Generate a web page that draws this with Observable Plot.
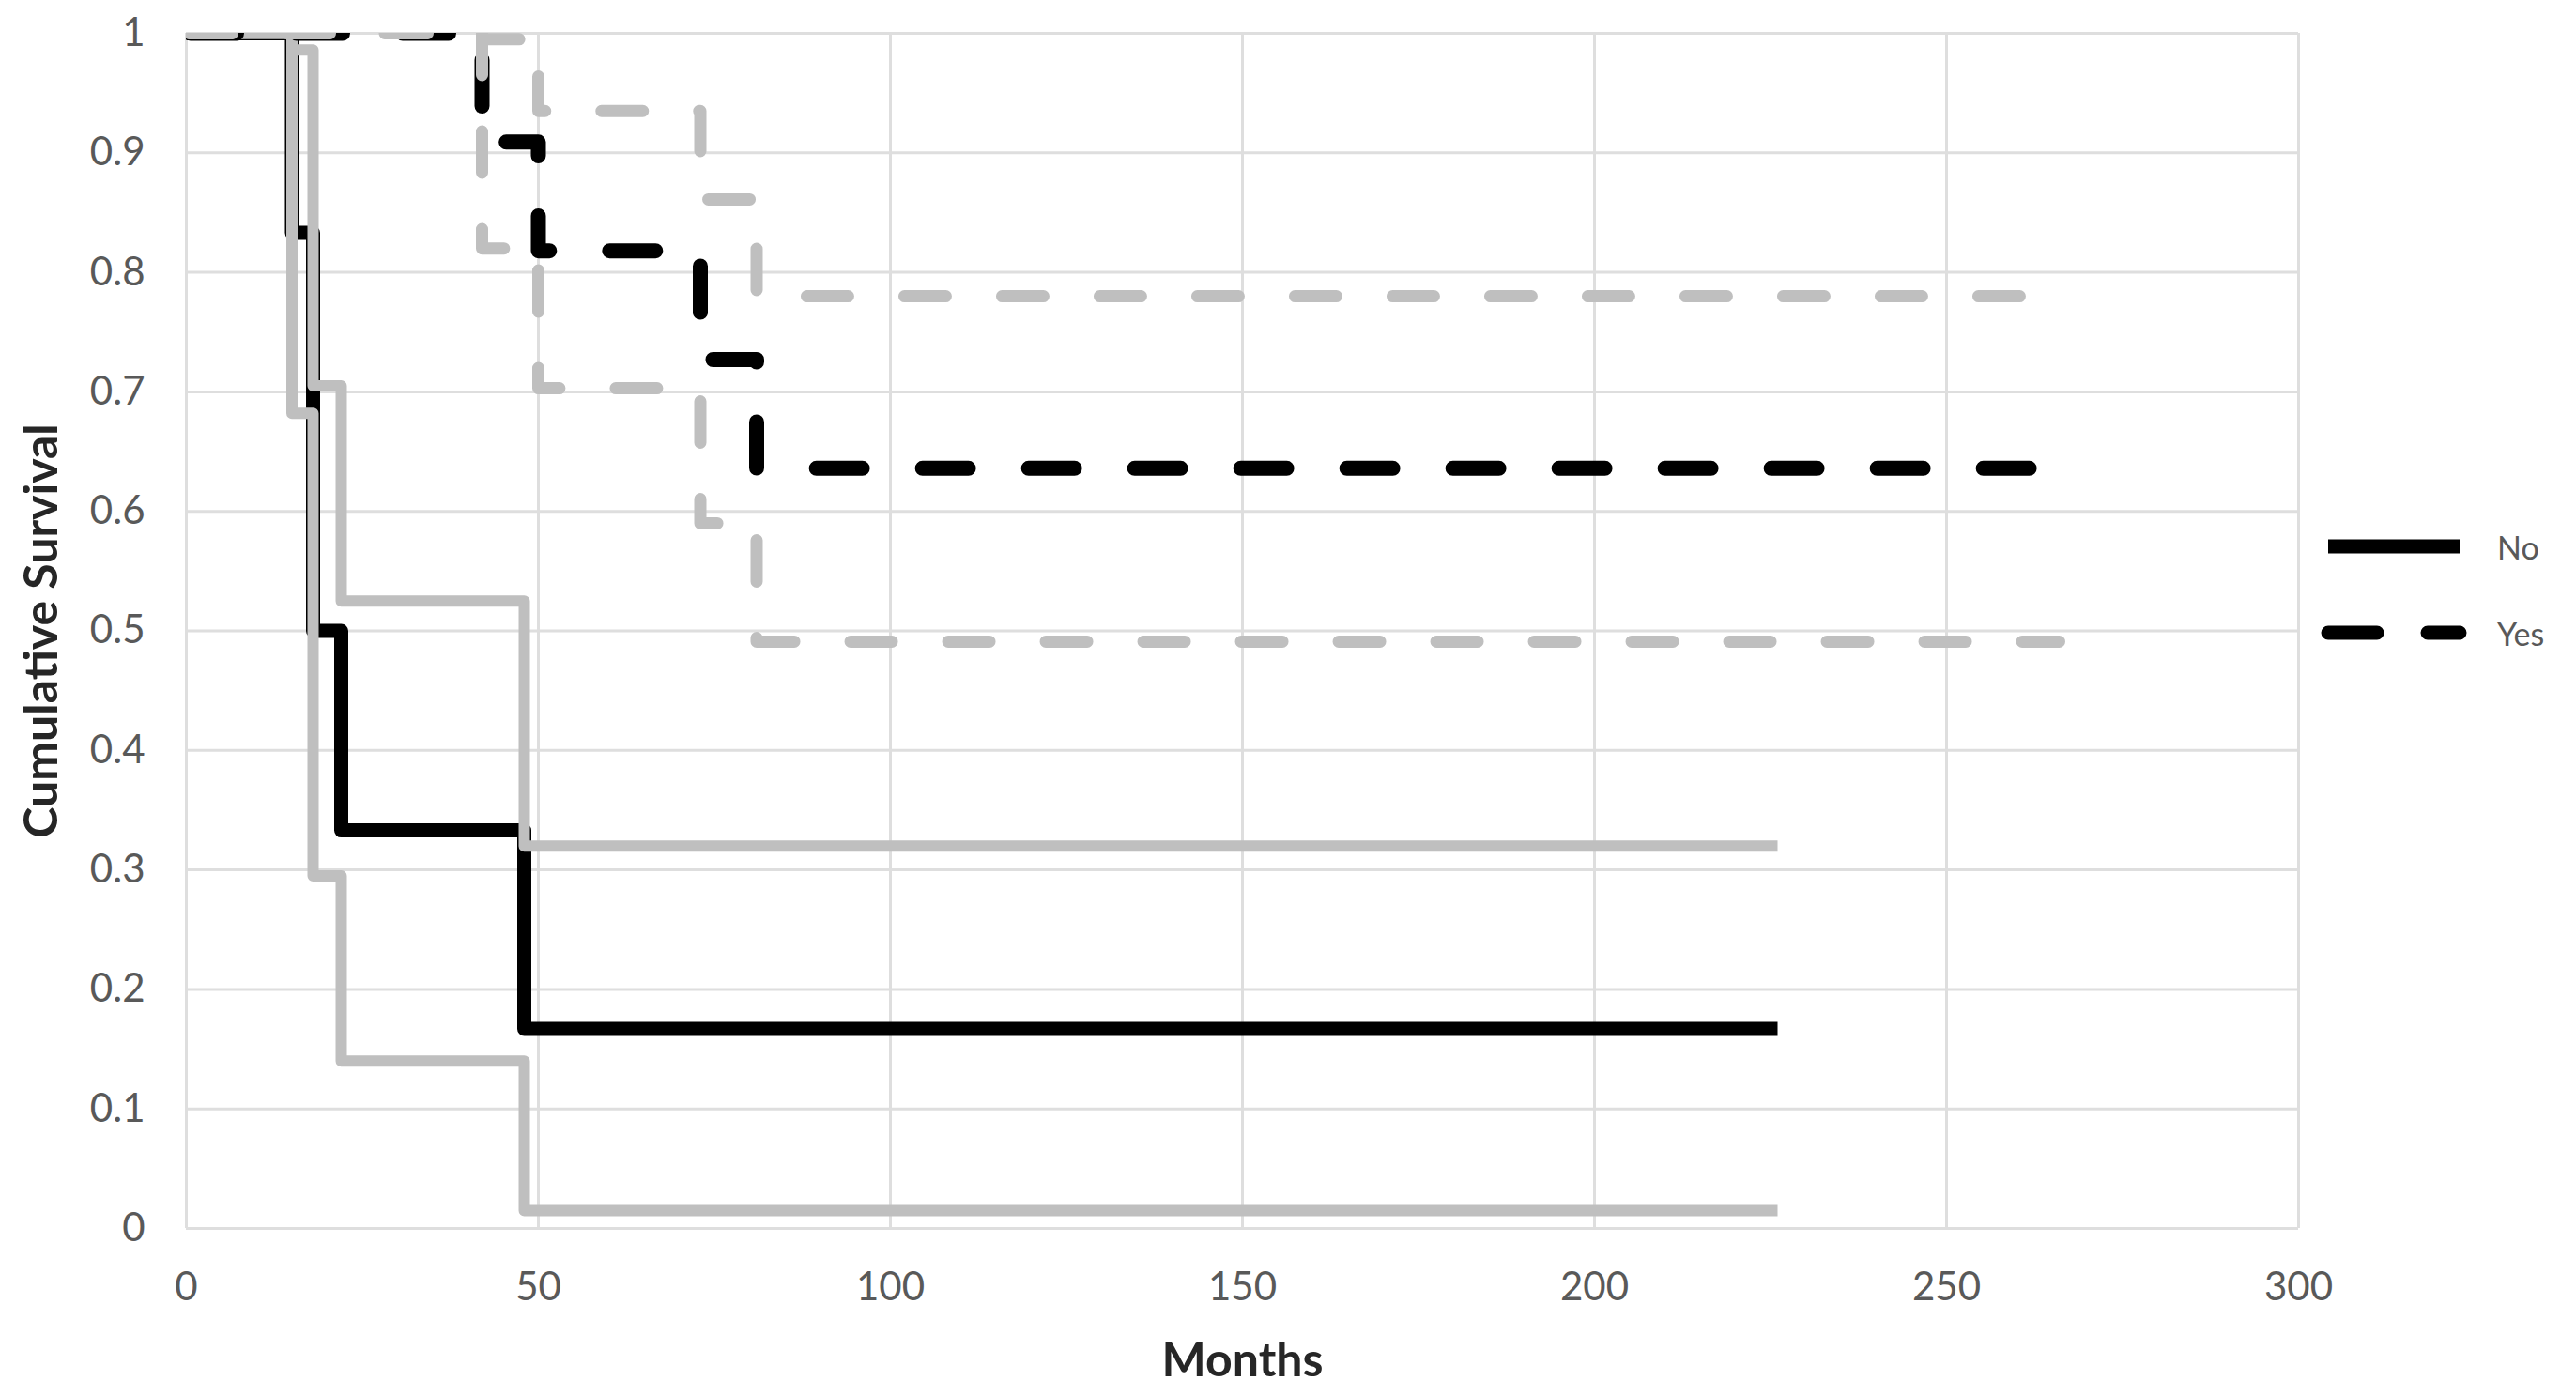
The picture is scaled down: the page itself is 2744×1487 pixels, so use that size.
<!DOCTYPE html>
<html>
<head>
<meta charset="utf-8">
<script src="https://cdn.jsdelivr.net/npm/d3@7"></script>
<script src="https://cdn.jsdelivr.net/npm/@observablehq/plot@0.6"></script>
<style>
  html, body { margin: 0; padding: 0; background: #fff; }
  #wrap { position: relative; width: 2744px; height: 1487px; overflow: hidden; font-family: Lato, "Open Sans", sans-serif; }
  #legend { position: absolute; left: 2470px; top: 536px; }
  .lg-row { display: flex; align-items: center; height: 92px; }
  .lg-row span { font-size: 34px; color: #595959; margin-left: 30px; }
</style>
</head>
<body>
<div id="wrap">
  <div id="chart"></div>
  <div id="legend"></div>
</div>
<script>
// ---- Data ----
const noTime      = [0, 15, 18, 22, 48, 226];
const noSurvival  = [1, 0.833, 0.5, 0.333, 0.167, 0.167];
const noLower     = [1, 0.682, 0.295, 0.14, 0.015, 0.015];
const noUpper     = [1, 0.986, 0.705, 0.525, 0.32, 0.32];

const yesTime      = [0, 42, 50, 73, 81, 263];
const yesSurvival  = [1, 0.909, 0.818, 0.727, 0.636, 0.636];
const yesUpper     = [1, 0.995, 0.935, 0.861, 0.78, 0.78];
const yesLowerTime = [0, 42, 50, 73, 81, 266];
const yesLower     = [1, 0.82, 0.703, 0.59, 0.491, 0.491];

const xTicks = [0, 50, 100, 150, 200, 250, 300];
const yTicks = [0, 0.1, 0.2, 0.3, 0.4, 0.5, 0.6, 0.7, 0.8, 0.9, 1];
const legendLabels = ["No", "Yes"];
const xTitle = "Months";
const yTitle = "Cumulative Survival";

const rows = (t, s) => t.map((m, i) => ({month: m, survival: s[i]}));

const BLACK = "#000000", GRAY = "#bfbfbf", GRID = "#dedede";
const solidBlack = {x: "month", y: "survival", curve: "step-after", stroke: BLACK, strokeWidth: 15, strokeLinejoin: "round", strokeLinecap: "butt", clip: true};
const solidGray  = {...solidBlack, stroke: GRAY, strokeWidth: 12};
const dashBlack  = {...solidBlack, strokeWidth: 16, strokeLinecap: "round", strokeDasharray: "49,64", strokeDashoffset: -4.5};
const dashGrayU  = {...solidBlack, stroke: GRAY, strokeWidth: 13, strokeLinecap: "round", strokeDasharray: "44,60", strokeDashoffset: -5};
const dashGrayL  = {...dashGrayU, strokeDashoffset: -3.5};

const chart = Plot.plot({
  width: 2744,
  height: 1487,
  marginLeft: 198,
  marginRight: 296,
  marginTop: 35,
  marginBottom: 179,
  style: {fontFamily: "Lato, 'Open Sans', sans-serif", background: "white", overflow: "visible"},
  x: {domain: [0, 300]},
  y: {domain: [0, 1]},
  marks: [
    Plot.gridX(xTicks, {stroke: GRID, strokeOpacity: 1, strokeWidth: 3}),
    Plot.gridY(yTicks, {stroke: GRID, strokeOpacity: 1, strokeWidth: 3}),
    Plot.axisX(xTicks, {tickSize: 0, tickPadding: 47, fontSize: 42, fill: "#595959", label: null, tickFormat: d => String(d)}),
    Plot.axisY(yTicks, {tickSize: 0, tickPadding: 44, fontSize: 42, fill: "#595959", label: null, tickFormat: d => String(d)}),
    Plot.line(rows(noTime, noSurvival), solidBlack),
    Plot.line(rows(noTime, noLower), solidGray),
    Plot.line(rows(noTime, noUpper), solidGray),
    Plot.line(rows(yesTime, yesSurvival), dashBlack),
    Plot.line(rows(yesTime, yesUpper), dashGrayU),
    Plot.line(rows(yesLowerTime, yesLower), dashGrayL),
    Plot.text([xTitle], {frameAnchor: "bottom", dy: 157, fontSize: 50, fontWeight: "bold", fill: "#262626"}),
    Plot.text([yTitle], {frameAnchor: "left", textAnchor: "middle", dx: -154, rotate: -90, fontSize: 50, fontWeight: "bold", fill: "#262626"})
  ]
});
document.getElementById("chart").append(chart);

// ---- Legend ----
const legend = document.getElementById("legend");
legendLabels.forEach((lab, i) => {
  const row = document.createElement("div");
  row.className = "lg-row";
  const dash = i === 0 ? "" : `stroke-dasharray="52,54"`;
  const cap = i === 0 ? "butt" : "round";
  row.innerHTML = `<svg width="160" height="30"><line x1="10" x2="150" y1="15" y2="15" stroke="#000" stroke-width="15" stroke-linecap="${cap}" ${dash}/></svg><span>${lab}</span>`;
  legend.append(row);
});
</script>
</body>
</html>
